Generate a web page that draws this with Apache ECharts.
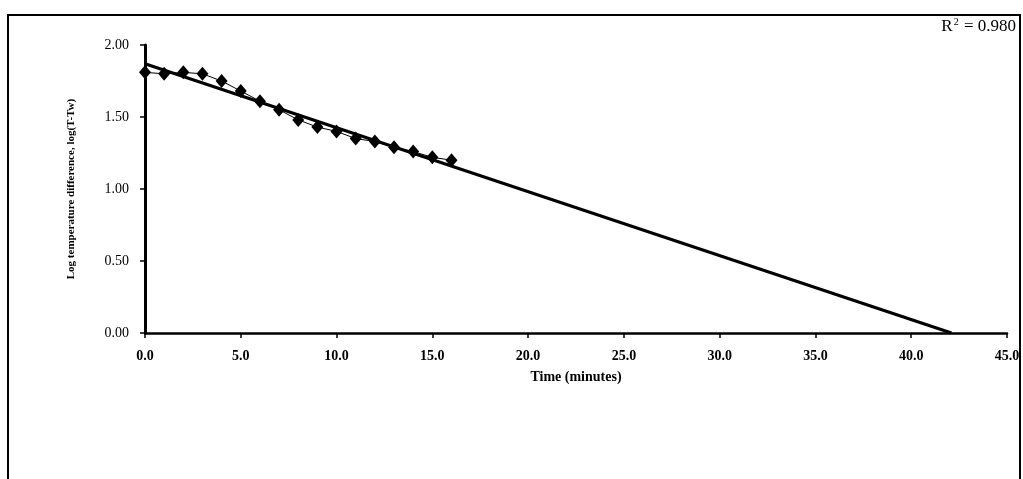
<!DOCTYPE html>
<html>
<head>
<meta charset="utf-8">
<script src="https://cdn.jsdelivr.net/npm/echarts@6/dist/echarts.min.js"></script>
<style>
  html, body { margin: 0; padding: 0; background: #fff; }
  #chart { width: 1023px; height: 479px; }
</style>
</head>
<body>
<div id="chart"></div>
<script>
// measured points: time (min) vs log(T - Tw)
const timeMin = [0, 1, 2, 3, 4, 5, 6, 7, 8, 9, 10, 11, 12, 13, 14, 15, 16];
const logDiff = [1.81, 1.80, 1.81, 1.80, 1.75, 1.68, 1.61, 1.55, 1.48, 1.43, 1.40, 1.35, 1.33, 1.29, 1.26, 1.22, 1.20];
// fitted trend line, end points
const trendX = [0, 42.1];
const trendY = [1.87, 0];
const r2Text = '0.980';

const font = 'Liberation Serif';
const chart = echarts.init(document.getElementById('chart'));

const option = {
    animation: false,
    backgroundColor: '#fff',
    grid: { left: 145, right: 16, top: 45, bottom: 146 },
    xAxis: {
        type: 'value',
        min: 0,
        max: 45,
        interval: 5,
        name: 'Time (minutes)',
        nameLocation: 'middle',
        nameGap: 37,
        nameTextStyle: { fontFamily: font, fontSize: 14, fontWeight: 'bold', color: '#000' },
        axisLine: { lineStyle: { color: '#000', width: 2.5 } },
        axisTick: { length: 5, lineStyle: { color: '#000', width: 1.5 } },
        axisLabel: {
            margin: 16,
            fontFamily: font, fontSize: 14, fontWeight: 'bold', color: '#000',
            formatter: v => v.toFixed(1)
        },
        splitLine: { show: false }
    },
    yAxis: {
        type: 'value',
        min: 0,
        max: 2,
        interval: 0.5,
        name: 'Log temperature difference, log(T-Tw)',
        nameLocation: 'middle',
        nameGap: 68,
        nameTextStyle: { fontFamily: font, fontSize: 11, fontWeight: 'bold', color: '#000' },
        axisLine: { show: true, lineStyle: { color: '#000', width: 3 } },
        axisTick: { show: true, length: 5, lineStyle: { color: '#000', width: 1.5 } },
        axisLabel: {
            margin: 16,
            fontFamily: font, fontSize: 14, color: '#000',
            formatter: v => v.toFixed(2)
        },
        splitLine: { show: false }
    },
    series: [
        {
            name: 'trend',
            type: 'line',
            data: trendX.map((x, i) => [x, trendY[i]]),
            symbol: 'none',
            lineStyle: { color: '#000', width: 3 },
            z: 2
        },
        {
            name: 'measured',
            type: 'line',
            data: timeMin.map((t, i) => [t, logDiff[i]]),
            symbol: 'diamond',
            symbolSize: [12, 14],
            itemStyle: { color: '#000' },
            lineStyle: { color: '#000', width: 1 },
            z: 3
        }
    ],
    graphic: [
        {
            type: 'rect',
            shape: { x: 8, y: 15, width: 1012, height: 470 },
            style: { fill: 'none', stroke: '#000', lineWidth: 2 },
            silent: true
        },
        {
            type: 'text',
            right: 7,
            top: 17,
            style: {
                text: '{r|R}{s|2}{r| = ' + r2Text + '}',
                rich: {
                    r: { fontFamily: font, fontSize: 17, color: '#000' },
                    s: { fontFamily: font, fontSize: 10, color: '#000', verticalAlign: 'top', padding: [0, 1, 10, 1] }
                }
            }
        }
    ]
};

chart.setOption(option);
</script>
</body>
</html>
